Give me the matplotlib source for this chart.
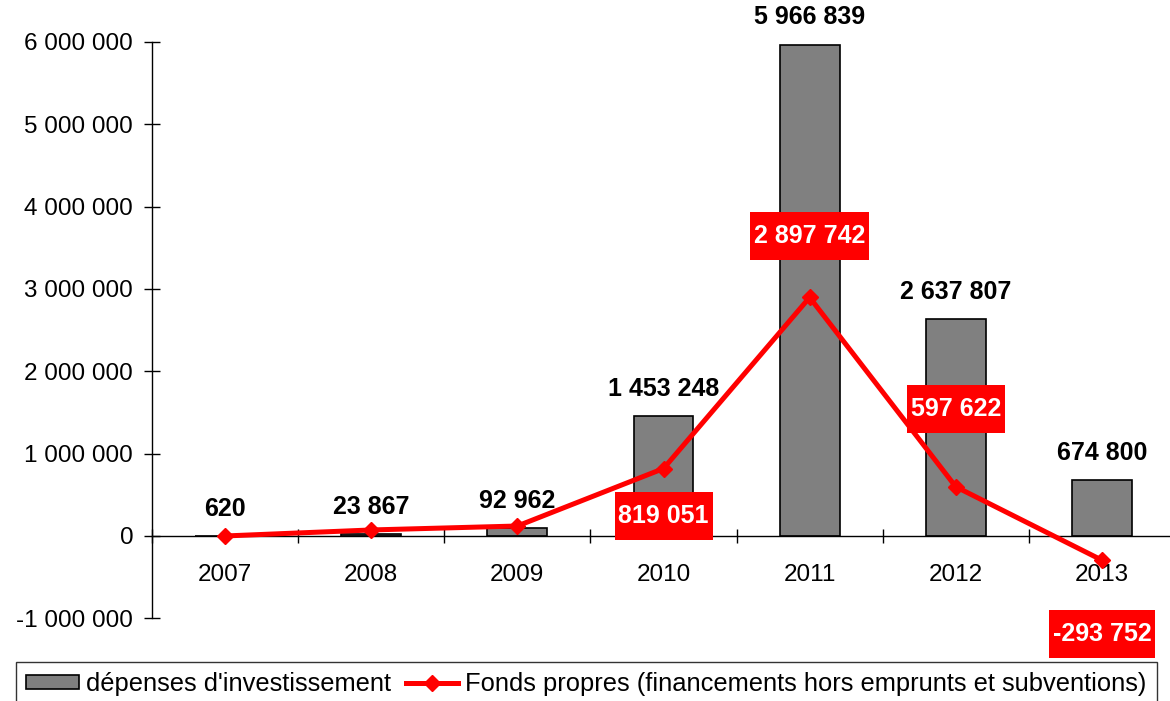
import matplotlib
matplotlib.use("Agg")
import matplotlib.pyplot as plt
from matplotlib.lines import Line2D
from matplotlib.patches import Patch
from matplotlib.path import Path
from matplotlib.ticker import FuncFormatter

plt.rcParams['font.family'] = ['Liberation Sans', 'DejaVu Sans']

years = ["2007", "2008", "2009", "2010", "2011", "2012", "2013"]
depenses = [620, 23867, 92962, 1453248, 5966839, 2637807, 674800]
fonds = [0, 73000, 121000, 819051, 2897742, 597622, -293752]
fonds_labels = [None, None, None, "819 051", "2 897 742", "597 622", "-293 752"]
yticks = [-1000000, 0, 1000000, 2000000, 3000000, 4000000, 5000000, 6000000]

fmt = lambda v: f"{v:,.0f}".replace(",", " ")


def tallbox(x0, y0, width, height, mutation_size):
    px = 0.15 * mutation_size
    py = 0.48 * mutation_size
    verts = [(x0 - px, y0 - py), (x0 + width + px, y0 - py),
             (x0 + width + px, y0 + height + py), (x0 - px, y0 + height + py),
             (x0 - px, y0 - py)]
    return Path(verts, closed=True)


fig = plt.figure(figsize=(11.7, 7.01), dpi=100)
ax = fig.add_axes([152/1170, (701-618.3)/701, (1175-152)/1170, (618.3-42)/701])
x = list(range(len(years)))

ax.bar(x, depenses, width=0.41, color="#808080", edgecolor="black", linewidth=1.2, zorder=2)
ax.plot(x, fonds, color="#ff0000", lw=3.6, marker="D", ms=8, mec="#ff0000", zorder=3)

for xi, v in zip(x, depenses):
    ax.annotate(fmt(v), (xi, v), xytext=(0, 11), textcoords="offset points",
                ha="center", va="bottom", fontsize=18, fontweight="bold", color="black", zorder=4)

offsets = [None, None, None, -34, 44, 56, -53]
for xi, v, lab, off in zip(x, fonds, fonds_labels, offsets):
    if lab is None:
        continue
    ax.annotate(lab, (xi, v), xytext=(0, off), textcoords="offset points",
                ha="center", va="center", fontsize=18, fontweight="bold", color="white",
                bbox=dict(boxstyle=tallbox, fc="#ff0000", ec="none"), zorder=5,
                annotation_clip=False)

ax.set_xlim(-0.5, 6.5)
ax.set_ylim(-1000000, 6000000)
ax.set_yticks(yticks)
ax.yaxis.set_major_formatter(FuncFormatter(lambda v, p: fmt(v)))
ax.tick_params(axis="y", direction="inout", length=11, width=1, labelsize=17.5, pad=8)

for s in ["top", "right"]:
    ax.spines[s].set_visible(False)
ax.spines["left"].set_linewidth(1)
ax.spines["bottom"].set_position(("data", 0))
ax.spines["bottom"].set_linewidth(1)

ax.set_xticks([i + 0.5 for i in range(-1, 7)])
ax.set_xticklabels([])
ax.set_xticks(x, minor=True)
ax.set_xticklabels(years, minor=True)
ax.tick_params(axis="x", which="major", direction="inout", length=10, width=1)
ax.tick_params(axis="x", which="minor", length=0, labelsize=17.5, pad=20)

handles = [Patch(fc="#808080", ec="black", lw=1.2),
           Line2D([], [], color="#ff0000", lw=3.6, marker="D", ms=8)]
labels = ["dépenses d'investissement", "Fonds propres (financements hors emprunts et subventions)"]
leg = fig.legend(handles, labels, loc="upper left", bbox_to_anchor=(16/1170, 1 - 662/701), ncol=2,
                 fontsize=18.4, frameon=True, fancybox=False, edgecolor="black",
                 handlelength=2.07, handleheight=0.5, handletextpad=0.27, columnspacing=0.58,
                 borderpad=0.39, borderaxespad=0)
leg.get_frame().set_linewidth(1)

fig.savefig("out.png", dpi=100)
